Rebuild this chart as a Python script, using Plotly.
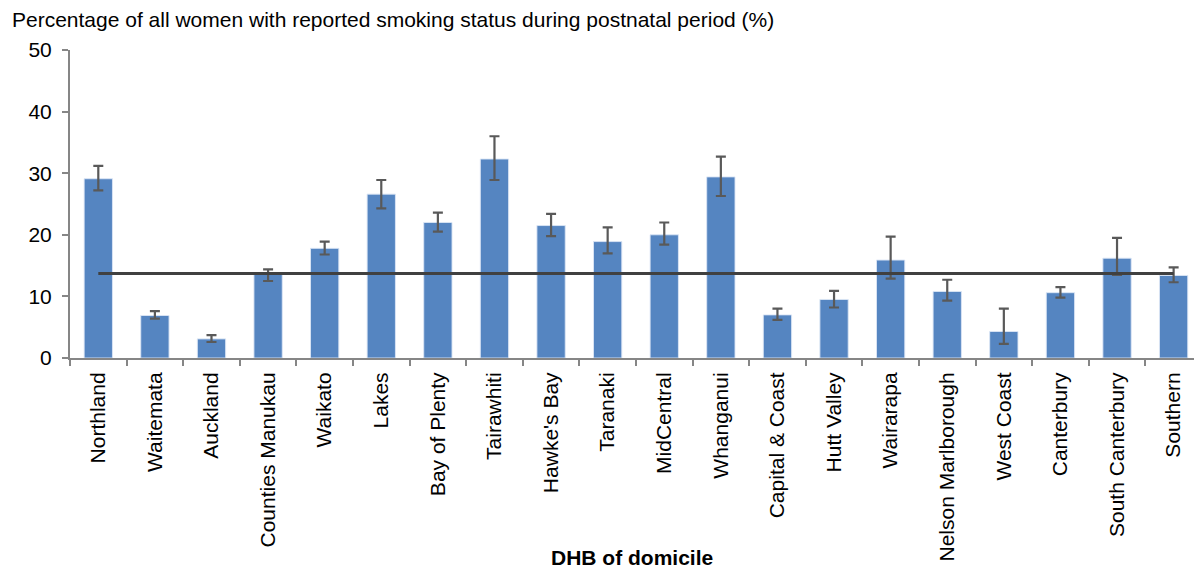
import plotly.graph_objects as go

# Smoking status during postnatal period by DHB of domicile
dhb = [
    "Northland", "Waitemata", "Auckland", "Counties Manukau", "Waikato",
    "Lakes", "Bay of Plenty", "Tairawhiti", "Hawke's Bay", "Taranaki",
    "MidCentral", "Whanganui", "Capital & Coast", "Hutt Valley", "Wairarapa",
    "Nelson Marlborough", "West Coast", "Canterbury", "South Canterbury", "Southern",
]
pct = [29.1, 6.9, 3.1, 13.7, 17.8, 26.6, 22.0, 32.3, 21.5, 18.9,
       20.0, 29.4, 7.0, 9.5, 15.9, 10.8, 4.3, 10.6, 16.2, 13.4]
ci_upper = [31.2, 7.6, 3.7, 14.4, 18.9, 28.9, 23.6, 36.0, 23.4, 21.2,
            22.0, 32.7, 8.0, 10.9, 19.7, 12.7, 8.0, 11.5, 19.5, 14.7]
ci_lower = [27.2, 6.4, 2.6, 12.5, 16.8, 24.3, 20.5, 28.9, 19.8, 17.0,
            18.4, 26.3, 6.2, 8.2, 12.9, 9.3, 2.3, 9.8, 13.5, 12.3]
national_rate = 13.7

err_plus = [u - v for u, v in zip(ci_upper, pct)]
err_minus = [v - l for v, l in zip(pct, ci_lower)]

FONT = "Liberation Sans, Arial, sans-serif"
AXIS_GREY = "#868686"

fig = go.Figure()
fig.add_trace(go.Bar(
    x=dhb, y=pct,
    marker=dict(color="#5585C1", line=dict(color="rgba(220,230,245,0.9)", width=1)),
    error_y=dict(type="data", symmetric=False, array=err_plus, arrayminus=err_minus,
                 color="#595959", thickness=2.2, width=5),
    showlegend=False,
))
fig.add_trace(go.Scatter(
    x=dhb, y=[national_rate] * len(dhb), mode="lines",
    line=dict(color="#404040", width=3), showlegend=False,
))

fig.update_layout(
    width=1194, height=570,
    margin=dict(l=70, r=0, t=50, b=212),
    plot_bgcolor="white", paper_bgcolor="white",
    bargap=0.5,
    font=dict(family=FONT, size=21, color="black"),
    xaxis=dict(
        range=[-0.5, 19.36], showline=True, linecolor=AXIS_GREY, linewidth=2,
        ticks="outside", tickson="boundaries", ticklen=6, tickcolor=AXIS_GREY, tickwidth=2,
        tickangle=-90, tickfont=dict(size=21), ticklabelstandoff=4, showgrid=False,
    ),
    yaxis=dict(
        range=[0, 50], dtick=10, showline=True, linecolor=AXIS_GREY, linewidth=2,
        ticks="outside", ticklen=6, tickcolor=AXIS_GREY, tickwidth=2,
        tickfont=dict(size=21), ticklabelstandoff=6, showgrid=False, zeroline=False,
    ),
    annotations=[
        dict(text="Percentage of all women with reported smoking status during postnatal period (%)",
             xref="paper", yref="paper", x=-60 / 1124, y=1, yshift=31,
             xanchor="left", yanchor="middle", showarrow=False, font=dict(size=21)),
        dict(text="<b>DHB of domicile</b>", xref="paper", yref="paper",
             x=0.5, y=0, yshift=-199, xanchor="center", yanchor="middle",
             showarrow=False, font=dict(size=21)),
    ],
)

fig.write_html("out.html")
